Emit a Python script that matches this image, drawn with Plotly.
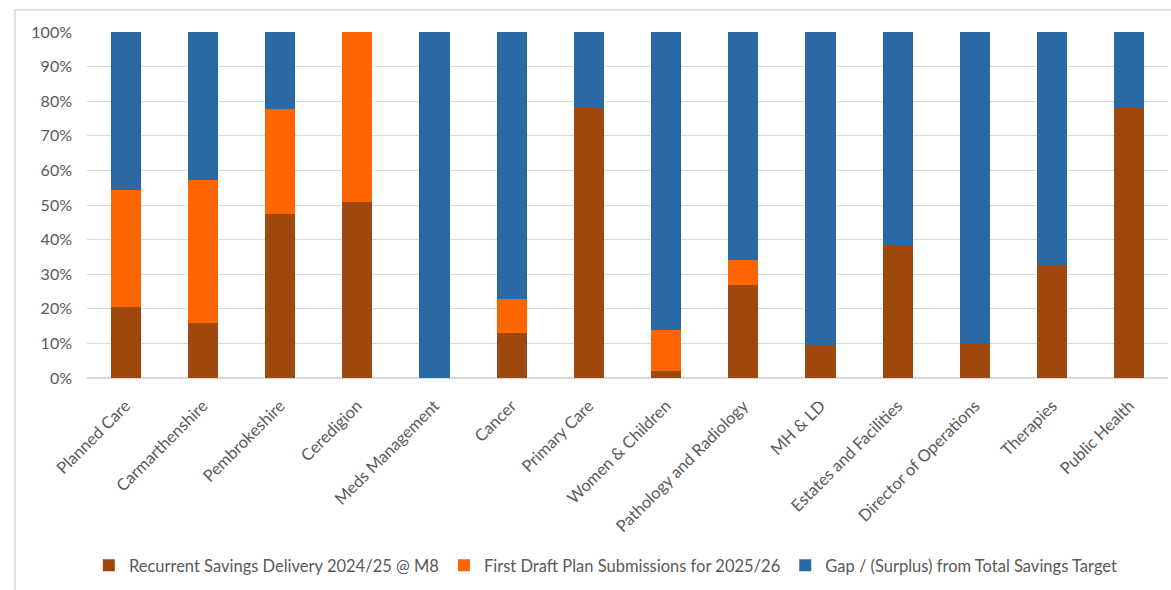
import plotly.graph_objects as go

categories = ["Planned Care", "Carmarthenshire", "Pembrokeshire", "Ceredigion",
              "Meds Management", "Cancer", "Primary Care", "Women & Children",
              "Pathology and Radiology", "MH & LD", "Estates and Facilities",
              "Director of Operations", "Therapies", "Public Health"]
recurrent = [20.5, 16.0, 47.4, 50.9, 0.0, 12.9, 78.1, 1.9, 26.9, 9.4, 38.5, 9.8, 32.6, 78.1]
first_draft = [33.7, 41.3, 30.3, 49.1, 0.0, 9.9, 0.0, 12.0, 7.2, 0.0, 0.0, 0.0, 0.0, 0.0]
gap = [45.8, 42.7, 22.3, 0.0, 100.0, 77.2, 21.9, 86.1, 65.9, 90.6, 61.5, 90.2, 67.4, 21.9]

series_names = ["Recurrent Savings Delivery 2024/25 @ M8",
                "First Draft Plan Submissions for 2025/26",
                "Gap / (Surplus) from Total Savings Target"]
colors = ["#9E480E", "#FF6600", "#2A6AA4"]

fig = go.Figure()
for name, vals, c in zip(series_names, [recurrent, first_draft, gap], colors):
    fig.add_trace(go.Bar(x=categories, y=vals, name=name, marker_color=c,
                         marker_line_width=0))

font = "Lato, 'Open Sans', sans-serif"
fig.update_layout(
    barmode="stack",
    bargap=0.61,
    width=1171, height=590,
    margin=dict(l=87, r=3, t=32, b=212),
    plot_bgcolor="white", paper_bgcolor="white",
    font=dict(family=font, color="#595959", size=14),
    legend=dict(orientation="h", x=0.48, xanchor="center", y=-0.542, yanchor="middle",
                font=dict(size=16.5, color="#595959"), traceorder="normal",
                itemwidth=30),
    xaxis=dict(tickangle=-45, tickfont=dict(size=16.5, color="#595959"),
               showline=False, ticks="", ticklabelstandoff=14),
    yaxis=dict(range=[0, 100], dtick=10, ticksuffix="%", gridcolor="#D9D9D9",
               gridwidth=1, zeroline=True, zerolinecolor="#D9D9D9",
               tickfont=dict(size=16, color="#595959"), ticks="", ticklen=0,
               ticklabelstandoff=14),
    shapes=[dict(type="rect", xref="paper", yref="paper",
                 x0=(15 - 87) / 1081, x1=(1173 - 87) / 1081,
                 y0=(378 - 593) / 346.6, y1=(378 - 9) / 346.6,
                 line=dict(color="#D9D9D9", width=1.5), layer="below")],
)
fig.write_html("out.html")
